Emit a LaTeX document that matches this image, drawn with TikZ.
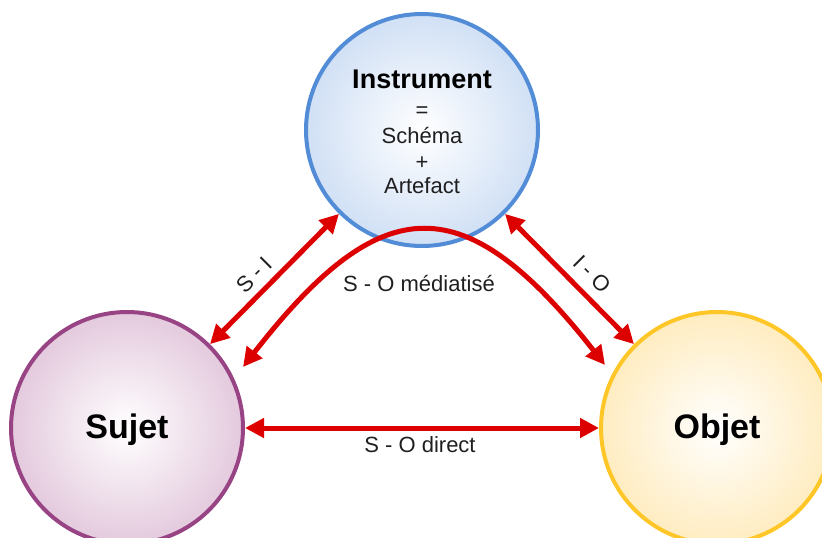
\documentclass[tikz,border=0pt]{standalone}
\usepackage{fontspec}
\setmainfont{Liberation Sans}
\usetikzlibrary{arrows.meta}
\definecolor{arrred}{RGB}{220,0,0}
\definecolor{istroke}{RGB}{82,140,215}
\definecolor{sstroke}{RGB}{152,68,132}
\definecolor{ostroke}{RGB}{255,198,40}
\definecolor{iedge}{RGB}{162,193,235}
\definecolor{sedge}{RGB}{200,148,188}
\definecolor{oedge}{RGB}{255,218,130}
\pgfdeclareradialshading{ishade}{\pgfpoint{0bp}{0bp}}{color(0bp)=(white); color(50bp)=(iedge); color(72bp)=(iedge)}
\pgfdeclareradialshading{sshade}{\pgfpoint{0bp}{0bp}}{color(0bp)=(white); color(50bp)=(sedge); color(72bp)=(sedge)}
\pgfdeclareradialshading{oshade}{\pgfpoint{0bp}{0bp}}{color(0bp)=(white); color(50bp)=(oedge); color(72bp)=(oedge)}
\begin{document}
\begin{tikzpicture}[x=1pt,y=1pt,
  ball/.style={circle, minimum size=232pt, inner sep=0pt, line width=4pt},
  big/.style={font=\fontsize{34}{38}\selectfont\bfseries, anchor=base},
  mid/.style={font=\fontsize{27}{30}\selectfont\bfseries, anchor=base},
  small/.style={font=\fontsize{22}{25}\selectfont, text=black!88, anchor=base},
  lbl/.style={font=\fontsize{22}{25}\selectfont, text=black!88, inner sep=1pt},
  arr/.style={draw=arrred, line width=5pt, <->, >={Triangle[length=19pt,width=19pt]}}]
\useasboundingbox (0,0) rectangle (822,-538);
\node[ball, shading=ishade, draw=istroke] (I) at (422,-130) {};
\node[ball, shading=sshade, draw=sstroke] (S) at (127,-428) {};
\node[ball, shading=oshade, draw=ostroke] (O) at (717,-428) {};
\node[mid] (ti) at (422,-88) {Instrument};
\node[small] (teq) at (422,-117) {=};
\node[small] (tsc) at (422,-143) {Schéma};
\node[small] (tpl) at (422,-169) {+};
\node[small] (tar) at (422,-193) {Artefact};
\node[big] (ts) at (127,-438) {Sujet};
\node[big] (to) at (717,-438) {Objet};
\draw[arr] (S) -- (I);
\draw[arr] (I) -- (O);
\draw[arr] (S) -- (O);
\coordinate (m1) at (243,-367);
\coordinate (m2) at (605,-365);
\coordinate (c1) at (383,-187);
\coordinate (c2) at (465,-187);
\draw[arr] (m1) .. controls (c1) and (c2) .. (m2);
\node[lbl, rotate=45] (lsi) at (254,-275) {S - I};
\node[lbl, rotate=-45] (lio) at (592,-274) {I - O};
\node[lbl, anchor=base] (lsm) at (419,-291) {S - O médiatisé};
\node[lbl, anchor=base] (lsd) at (420,-452) {S - O direct};
\end{tikzpicture}
\end{document}
